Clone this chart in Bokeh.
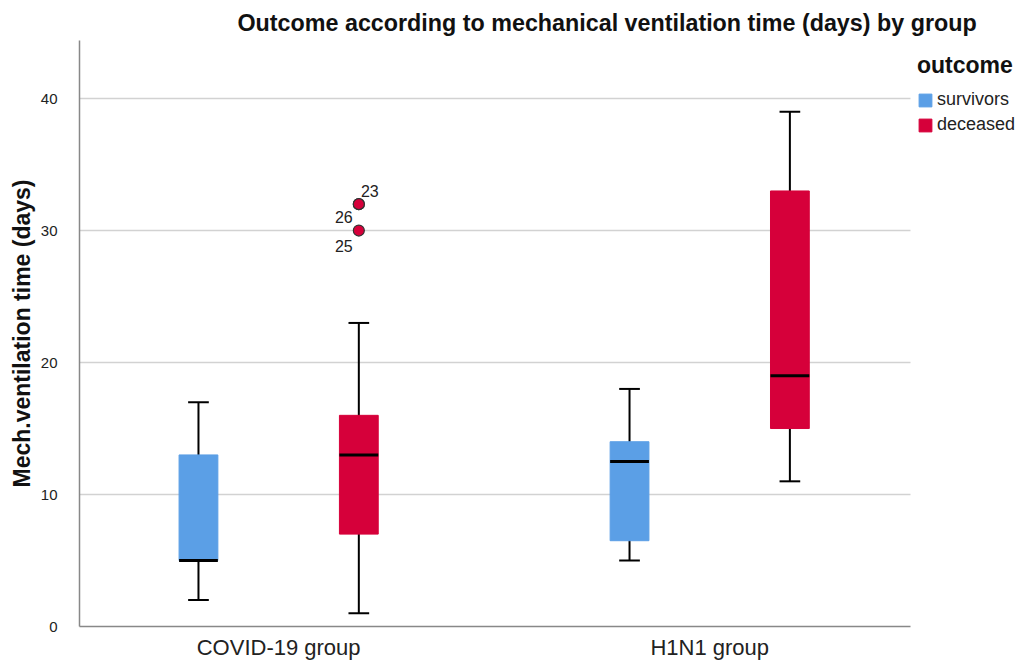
from bokeh.plotting import figure
from bokeh.models import ColumnDataSource, Range1d, FixedTicker, Legend, LegendItem
from bokeh.core.properties import value
from bokeh.embed import file_html
from bokeh.resources import INLINE

groups = ["COVID-19 group", "H1N1 group"]
outcomes = ["survivors", "deceased"]
colors = ["#5b9fe6", "#d6003a"]

# [low whisker, Q1, median, Q3, high whisker] per group
survivors = [[2, 5, 5, 13, 17], [5, 6.5, 12.5, 14, 18]]
deceased = [[1, 7, 13, 16, 23], [11, 15, 19, 33, 39]]

outlier_group = [0, 0, 0]
outlier_vals = [32, 32, 30]
outlier_ids = ["23", "26", "25"]

FONT = "Liberation Sans"
offsets = [-0.186, 0.186]
bw = 0.09
cw = 0.048
X0, XAXIS_END, X1 = -0.462, 1.466, 1.721

p = figure(width=1022, height=662, output_backend="svg", toolbar_location=None,
           x_range=Range1d(X0, X1), y_range=Range1d(0, 44.4),
           min_border_left=79, min_border_right=2, min_border_top=40, min_border_bottom=35)

p.title.text = "Outcome according to mechanical ventilation time (days) by group"
p.title.text_font = FONT
p.title.text_font_size = "23.3px"
p.title.text_font_style = "bold"
p.title.text_color = "#111111"
p.title.align = "left"
p.title.offset = 158
p.title.standoff = 10

renderers = []
for k, (data, col) in enumerate(zip([survivors, deceased], colors)):
    xs = [i + offsets[k] for i in range(len(groups))]
    src = ColumnDataSource(dict(
        x=xs,
        low=[d[0] for d in data], q1=[d[1] for d in data], med=[d[2] for d in data],
        q3=[d[3] for d in data], high=[d[4] for d in data],
        xl=[x - bw / 2 for x in xs], xr=[x + bw / 2 for x in xs],
        cl=[x - cw / 2 for x in xs], cr=[x + cw / 2 for x in xs],
    ))
    p.segment("x", "low", "x", "high", source=src, line_color="black", line_width=2)
    p.segment("cl", "low", "cr", "low", source=src, line_color="black", line_width=2)
    p.segment("cl", "high", "cr", "high", source=src, line_color="black", line_width=2)
    r = p.vbar(x="x", width=bw, bottom="q1", top="q3", source=src,
               fill_color=col, line_color=col, line_width=1)
    renderers.append(r)
    p.segment("xl", "med", "xr", "med", source=src, line_color="black", line_width=3)

ox = [g + offsets[1] for g in outlier_group]
osrc = ColumnDataSource(dict(x=ox, y=outlier_vals, label=outlier_ids,
                             dx=[11, -15, -15], dy=[-13, 13, 15]))
p.scatter("x", "y", source=osrc, size=11, fill_color=colors[1], line_color="#333333", line_width=1.2)
p.text("x", "y", text="label", source=osrc, x_offset="dx", y_offset="dy",
       text_align="center", text_baseline="middle", text_font=value(FONT),
       text_font_size="16px", text_color="#222222")

legend = Legend(items=[LegendItem(label=o, renderers=[r]) for o, r in zip(outcomes, renderers)],
                location=(838, 491), title="outcome",
                title_text_font=FONT, title_text_font_size="23px", title_text_font_style="bold",
                title_text_color="#111111",
                title_standoff=10, label_text_font=FONT, label_text_font_size="18px",
                label_text_color="#222222", glyph_width=16, glyph_height=16,
                label_standoff=4, spacing=4, padding=0, margin=0,
                border_line_alpha=0, background_fill_alpha=0)
p.add_layout(legend)

p.xaxis.ticker = FixedTicker(ticks=[0, 1])
p.xaxis.major_label_overrides = {0: groups[0], 1: groups[1]}
p.xaxis.bounds = (X0, XAXIS_END)
p.xaxis.major_label_text_font = FONT
p.xaxis.major_label_text_font_size = "22px"
p.xaxis.major_label_text_color = "#222222"
p.xaxis.major_tick_line_color = None
p.xaxis.minor_tick_line_color = None
p.xaxis.major_tick_out = 0
p.xaxis.major_tick_in = 0
p.xaxis.major_label_standoff = 8

p.yaxis.ticker = FixedTicker(ticks=[0, 10, 20, 30, 40])
p.yaxis.axis_label = "Mech.ventilation time (days)"
p.yaxis.axis_label_text_font = FONT
p.yaxis.axis_label_text_font_size = "23px"
p.yaxis.axis_label_text_font_style = "bold"
p.yaxis.axis_label_text_color = "#111111"
p.yaxis.axis_label_standoff = 3
p.yaxis.major_label_text_font = FONT
p.yaxis.major_label_text_font_size = "15px"
p.yaxis.major_label_text_color = "#222222"
p.yaxis.major_tick_line_color = None
p.yaxis.minor_tick_line_color = None
p.yaxis.major_tick_out = 0
p.yaxis.major_tick_in = 0
p.yaxis.major_label_standoff = 22

for ax in [p.xaxis, p.yaxis]:
    ax.axis_line_color = "#888888"
    ax.axis_line_width = 1.5

p.xgrid.grid_line_color = None
p.ygrid.grid_line_color = "#d2d2d2"
p.ygrid.grid_line_width = 1.5
p.ygrid.cross_bounds = (X0, XAXIS_END)
p.outline_line_color = None

open("out.html", "w").write(file_html(p, INLINE))
